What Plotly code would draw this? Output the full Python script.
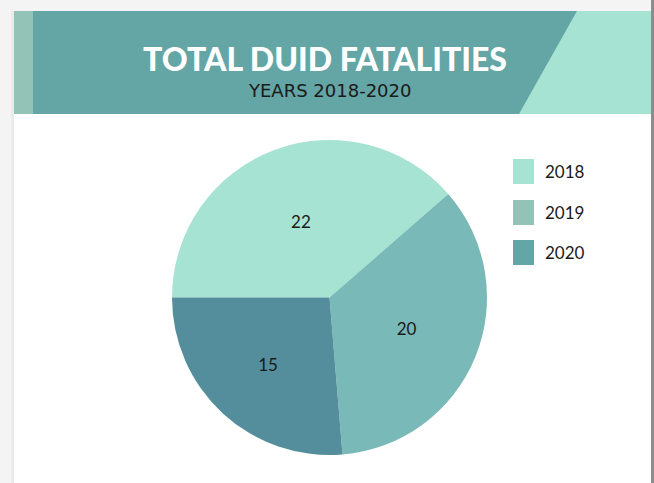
import plotly.graph_objects as go

categories = ["2018", "2019", "2020"]
values = [22, 20, 15]
slice_colors = ["#A6E3D3", "#79B9B8", "#548D9C"]
legend_colors = ["#A6E3D3", "#93C2B6", "#64A6A5"]
title_text = "TOTAL DUID FATALITIES"
subtitle_text = "YEARS 2018-2020"

W, H = 654, 483

def px(x):
    return x / W

def py(y):
    return 1 - y / H

fig = go.Figure()
fig.add_trace(go.Pie(
    labels=categories,
    values=values,
    sort=False,
    direction="clockwise",
    rotation=-90,
    marker=dict(colors=slice_colors, line=dict(width=0)),
    textinfo="value",
    textposition="inside",
    insidetextorientation="horizontal",
    textfont=dict(family="Lato", size=17, color="#1a1a1a"),
    hoverinfo="label+value",
    showlegend=False,
    domain=dict(x=[px(172), px(487)], y=[py(455), py(140)]),
))

shapes = []
# page shadow / frame
shapes.append(dict(type="rect", xref="paper", yref="paper", x0=0, x1=1, y0=py(11), y1=1,
                   fillcolor="#f4f4f4", line=dict(width=0), layer="below"))
shapes.append(dict(type="rect", xref="paper", yref="paper", x0=0, x1=px(14), y0=0, y1=1,
                   fillcolor="#f4f4f4", line=dict(width=0), layer="below"))
shapes.append(dict(type="rect", xref="paper", yref="paper", x0=px(11), x1=px(14), y0=0, y1=py(11),
                   fillcolor="#ebebeb", line=dict(width=0), layer="below"))
shapes.append(dict(type="rect", xref="paper", yref="paper", x0=px(651), x1=1, y0=0, y1=1,
                   fillcolor="#8c8c8c", line=dict(width=0), layer="below"))
# header band
shapes.append(dict(type="rect", xref="paper", yref="paper", x0=px(14), x1=px(651), y0=py(114), y1=py(11),
                   fillcolor="#A6E3D3", line=dict(width=0), layer="below"))
shapes.append(dict(type="path", xref="paper", yref="paper",
                   path=f"M {px(14)},{py(11)} L {px(577)},{py(11)} L {px(519)},{py(114)} L {px(14)},{py(114)} Z",
                   fillcolor="#64A6A5", line=dict(width=0), layer="below"))
shapes.append(dict(type="rect", xref="paper", yref="paper", x0=px(14), x1=px(33), y0=py(114), y1=py(11),
                   fillcolor="#93C2B6", line=dict(width=0), layer="below"))

annotations = [
    dict(text=title_text, x=px(325), y=py(58), xref="paper", yref="paper", showarrow=False,
         xanchor="center", yanchor="middle",
         font=dict(family="Lato", size=32, color="white", weight=900)),
    dict(text=subtitle_text, x=px(329), y=py(91), xref="paper", yref="paper", showarrow=False,
         xanchor="center", yanchor="middle",
         font=dict(family="DejaVu Sans", size=18, color="#1a1a1a")),
]

# legend
leg_top = [159, 200, 240]
for i, (cat, col) in enumerate(zip(categories, legend_colors)):
    t = leg_top[i]
    shapes.append(dict(type="rect", xref="paper", yref="paper", x0=px(513), x1=px(534),
                       y0=py(t + 25), y1=py(t), fillcolor=col, line=dict(width=0)))
    annotations.append(dict(text=cat, x=px(543), y=py(t + 12.5), xref="paper", yref="paper",
                            showarrow=False, xanchor="left", yanchor="middle",
                            font=dict(family="Lato", size=17, color="#1a1a1a")))

fig.update_layout(
    width=W, height=H,
    margin=dict(l=0, r=0, t=0, b=0),
    paper_bgcolor="white",
    plot_bgcolor="white",
    shapes=shapes,
    annotations=annotations,
)

fig.write_html("out.html", config={"displayModeBar": False},
               post_script="document.body.style.margin='0';document.body.style.overflow='hidden';")
